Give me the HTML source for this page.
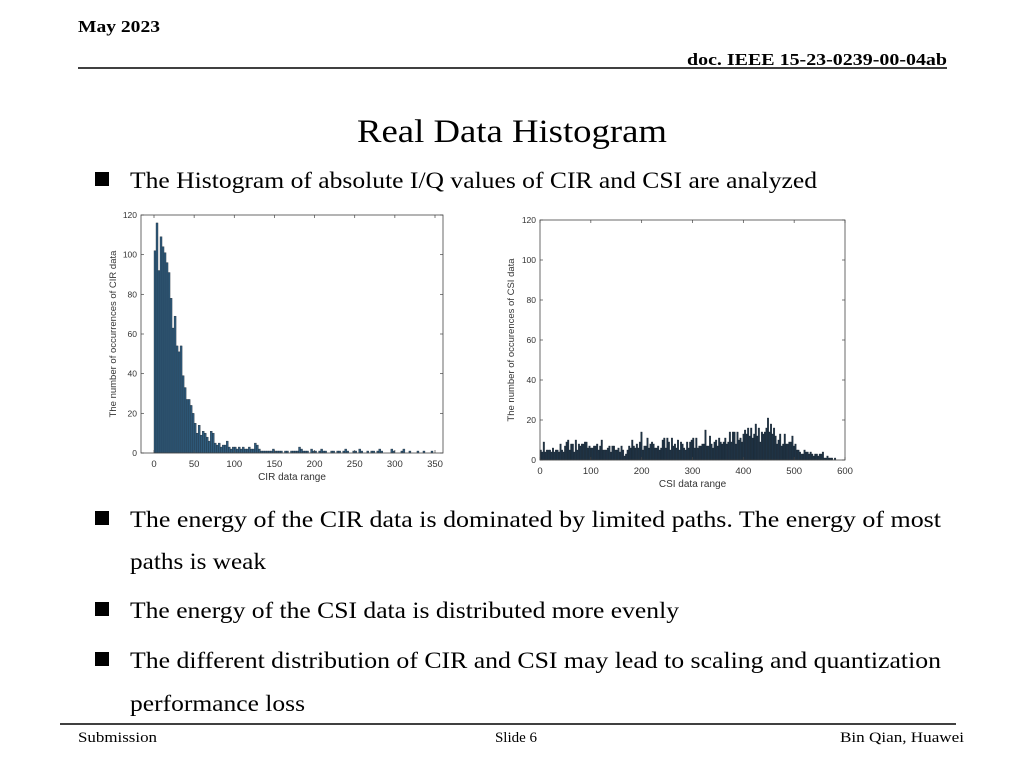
<!DOCTYPE html>
<html><head><meta charset="utf-8"><style>
html,body{margin:0;padding:0;background:#fff}
svg{display:block}
text{font-family:"Liberation Serif",serif;fill:#000}
.ax text{font-family:"Liberation Sans",sans-serif;fill:#333}
</style></head><body>
<svg id="slide" width="1024" height="768" viewBox="0 0 1024 768">
<text x="78" y="32" font-size="17" font-weight="bold" textLength="82" lengthAdjust="spacingAndGlyphs">May 2023</text>
<text x="947" y="65" font-size="17" font-weight="bold" text-anchor="end" textLength="260" lengthAdjust="spacingAndGlyphs">doc. IEEE 15-23-0239-00-04ab</text>
<line x1="78" y1="68" x2="947" y2="68" stroke="#000" stroke-width="1.5"/>
<text x="357" y="142" font-size="33" textLength="310" lengthAdjust="spacingAndGlyphs">Real Data Histogram</text>

<rect x="95" y="172" width="14" height="14" fill="#000"/>
<text x="130" y="188" font-size="23" textLength="687" lengthAdjust="spacingAndGlyphs">The Histogram of absolute I/Q values of CIR and CSI are analyzed</text>

<rect x="95" y="511" width="14" height="14" fill="#000"/>
<text x="130" y="527" font-size="23" textLength="811" lengthAdjust="spacingAndGlyphs">The energy of the CIR data is dominated by limited paths. The energy of most</text>
<text x="130" y="569" font-size="23" textLength="136" lengthAdjust="spacingAndGlyphs">paths is weak</text>

<rect x="95" y="602" width="14" height="14" fill="#000"/>
<text x="130" y="618" font-size="23" textLength="549" lengthAdjust="spacingAndGlyphs">The energy of the CSI data is distributed more evenly</text>

<rect x="95" y="652" width="14" height="14" fill="#000"/>
<text x="130" y="668" font-size="23" textLength="811" lengthAdjust="spacingAndGlyphs">The different distribution of CIR and CSI may lead to scaling and quantization</text>
<text x="130" y="711" font-size="23" textLength="175" lengthAdjust="spacingAndGlyphs">performance loss</text>

<line x1="60" y1="724" x2="956" y2="724" stroke="#000" stroke-width="1.5"/>
<text x="78" y="742" font-size="15" textLength="79" lengthAdjust="spacingAndGlyphs">Submission</text>
<text x="516" y="742" font-size="15" text-anchor="middle">Slide 6</text>
<text x="964" y="742" font-size="15" text-anchor="end" textLength="124" lengthAdjust="spacingAndGlyphs">Bin Qian, Huawei</text>

<g id="cir" class="ax"></g>
<g id="csi" class="ax"></g>
</svg>
<script>
const cirCounts=[102,116,92,109,104,101,96,91,78,63,69,54,51,54,39,33,27,27,24,20,15,10,14,9,11,10,8,6,11,10,5,4,5,3,4,4,6,3,2,3,3,2,3,2,3,2,2,3,2,2,5,4,2,1,1,1,1,1,1,2,1,1,1,1,0,1,1,0,1,1,1,1,3,2,1,1,1,0,2,1,1,0,1,2,1,1,0,0,1,1,0,1,1,0,1,2,1,0,0,1,1,0,2,1,0,0,1,0,1,1,0,1,2,1,0,0,0,0,2,1,0,0,0,1,2,0,0,1,0,0,0,1,0,0,1,0,0,0,1,0];
const cirBinWidth=2.5;
const cirXTicks=[0,50,100,150,200,250,300,350];
const cirYTicks=[0,20,40,60,80,100,120];
const csiCounts=[5,4,9,4,5,5,5,4,6,4, 5,5,4,8,5,4,7,9,10,5, 8,8,4,10,5,8,7,8,8,9, 9,6,7,6,6,7,7,8,5,7,
10,5,5,5,6,7,4,7,7,5, 5,6,4,7,5,2,3,5,7,6, 10,7,6,8,6,9,14,5,7,7, 11,6,8,9,8,6,6,7,5,6,
10,11,6,11,9,5,11,7,8,6, 10,5,9,8,6,5,9,6,9,10, 11,6,11,6,7,7,8,8,15,7, 7,12,8,6,9,10,7,11,9,8,
9,11,8,9,14,9,14,14,8,14, 10,11,9,13,15,13,16,12,16,11, 13,18,12,16,9,14,13,14,16,21, 14,18,13,16,12,8,10,13,7,8,
13,8,8,9,9,12,7,8,5,5, 4,3,3,5,4,4,3,4,3,2, 3,3,2,3,3,4,1,1,2,1, 1,1,0,1,0,0,0,0,0,0];
const csiBinWidth=3;
const csiXTicks=[0,100,200,300,400,500,600];
const csiYTicks=[0,20,40,60,80,100,120];

const NS='http://www.w3.org/2000/svg';
function mk(parent,tag,attrs,txt){const e=document.createElementNS(NS,tag);for(const k in attrs)e.setAttribute(k,attrs[k]);if(txt!==undefined)e.textContent=txt;parent.appendChild(e);return e;}

function drawHist(gid,cfg,counts,bw,xt,yt,xlabel,ylabel,prefix){
  const g=document.getElementById(gid);
  const xs=v=>cfg.x0+(v-cfg.xmin)/(cfg.xmax-cfg.xmin)*(cfg.x1-cfg.x0);
  const ys=v=>cfg.y0-(v/120)*(cfg.y0-cfg.y1);
  counts.forEach((c,i)=>{
    if(c<=0)return;
    const xa=xs(i*bw),xb=xs((i+1)*bw);
    const r=mk(g,'rect',{x:xa,y:ys(c),width:Math.max(xb-xa,0.6),height:cfg.y0-ys(c),fill:cfg.fill,stroke:'#1a2530','stroke-width':0.35});
    
    
  });
  const box=mk(g,'rect',{x:cfg.bx0,y:cfg.y1,width:cfg.bx1-cfg.bx0,height:cfg.y0-cfg.y1,fill:'none',stroke:'#444','stroke-width':0.8});
  
  
  xt.forEach(v=>{
    const x=xs(v);
    mk(g,'line',{x1:x,y1:cfg.y0,x2:x,y2:cfg.y0-3,stroke:'#444','stroke-width':0.7});
    mk(g,'line',{x1:x,y1:cfg.y1,x2:x,y2:cfg.y1+3,stroke:'#444','stroke-width':0.7});
    const t=mk(g,'text',{x:x,y:cfg.y0+14,'font-size':9.5,'text-anchor':'middle'},String(v));
    
    
  });
  yt.forEach(v=>{
    const y=ys(v);
    mk(g,'line',{x1:cfg.bx0,y1:y,x2:cfg.bx0+3,y2:y,stroke:'#444','stroke-width':0.7});
    mk(g,'line',{x1:cfg.bx1,y1:y,x2:cfg.bx1-3,y2:y,stroke:'#444','stroke-width':0.7});
    const t=mk(g,'text',{x:cfg.bx0-4,y:y+3,'font-size':8.5,'text-anchor':'end'},String(v));
    
    
  });
  const xl=mk(g,'text',{x:(cfg.bx0+cfg.bx1)/2,y:cfg.y0+27,'font-size':10,'text-anchor':'middle'},xlabel);
  
  
  const cy=(cfg.y0+cfg.y1)/2;
  const yl=mk(g,'text',{x:cfg.ylx,y:cy,'font-size':9.5,'text-anchor':'middle',transform:'rotate(-90 '+cfg.ylx+' '+cy+')'},ylabel);
  
  
}
drawHist('cir',{x0:154,x1:435,xmin:0,xmax:350,y0:453,y1:215,bx0:141,bx1:443,ylx:116,fill:'#2f5b7c'},
  cirCounts,cirBinWidth,cirXTicks,cirYTicks,'CIR data range','The number of occurrences of CIR data','cir');
drawHist('csi',{x0:540,x1:845,xmin:0,xmax:600,y0:460,y1:220,bx0:540,bx1:845,ylx:514,fill:'#1f3345'},
  csiCounts,csiBinWidth,csiXTicks,csiYTicks,'CSI data range','The number of occurences of CSI data','csi');
</script>
</body></html>
